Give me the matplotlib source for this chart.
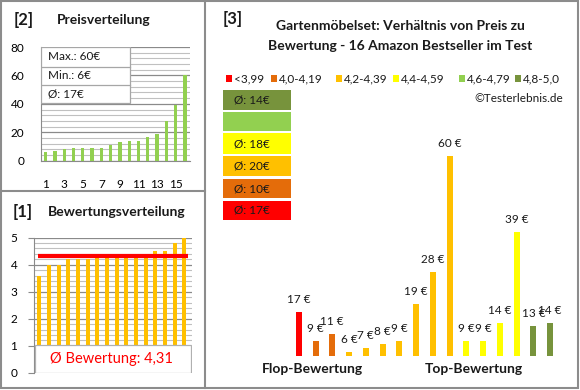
import matplotlib
matplotlib.use("Agg")
import matplotlib.pyplot as plt
from matplotlib.patches import Rectangle
from matplotlib.lines import Line2D
import numpy as np

plt.rcParams['font.family'] = ['Lato', 'DejaVu Sans']

# daten
preise_sortiert = [6, 7, 8, 9, 9, 9, 9, 11, 13, 14, 14, 17, 19, 28, 39, 60]
bewertungen = [3.6, 4.0, 4.0, 4.2, 4.2, 4.2, 4.3, 4.3, 4.3, 4.3, 4.4, 4.4, 4.5, 4.5, 4.8, 5.0]
bew_mittel = 4.31

preise = [17, 9, 11, 6, 7, 8, 9, 19, 28, 60, 9, 9, 14, 39, 13, 14]
klassen = [0, 1, 1, 2, 2, 2, 2, 2, 2, 2, 3, 3, 3, 3, 5, 5]

klassen_labels = ["<3,99", "4,0-4,19", "4,2-4,39", "4,4-4,59", "4,6-4,79", "4,8-5,0"]
klassen_farben = ["#FF0000", "#E46C0A", "#FFC000", "#FFFF00", "#92D050", "#77933C"]
klassen_mittel = ["Ø: 17€", "Ø: 10€", "Ø: 20€", "Ø: 18€", "", "Ø: 14€"]

W, H = 580, 390
fig = plt.figure(figsize=(W / 100, H / 100), dpi=100)


def px_axes(l, t, r, b):
    return fig.add_axes([l / W, 1 - b / H, (r - l) / W, (b - t) / H])


def fx(x):
    return x / W


def fy(y):
    return 1 - y / H


# rahmen
rahmen = "#8c8c8c"
fig.add_artist(Rectangle((fx(1), fy(388)), fx(577), 387 / H, fill=False,
                         ec=rahmen, lw=1.5, transform=fig.transFigure))
fig.add_artist(Line2D([fx(205), fx(205)], [fy(1), fy(388)], color=rahmen, lw=1.5))
fig.add_artist(Line2D([fx(1), fx(205)], [fy(191), fy(191)], color=rahmen, lw=1.5))

txt = "#1a1a1a"

# ---- [2] Preisverteilung ----
fig.text(fx(14), fy(20), "[2]", fontsize=12, fontweight="bold", color=txt, va="center")
fig.text(fx(57), fy(20), "Preisverteilung", fontsize=10, fontweight="bold", color=txt, va="center")

ax2 = px_axes(41, 47, 190, 160.7)
x = np.arange(1, 17)
ax2.bar(x, preise_sortiert, width=0.36, color="#92D050", zorder=3)
ax2.set_xlim(0.5, 16.55)
ax2.set_ylim(0, 80)
ax2.set_yticks([0, 20, 40, 60, 80])
ax2.set_yticks(np.arange(0, 81, 4), minor=True)
ax2.set_xticks([1, 3, 5, 7, 9, 11, 13, 15])
ax2.grid(axis="y", which="minor", color="#c0c0c0", lw=0.8, zorder=0)
ax2.grid(axis="y", which="major", color="#8a8a8a", lw=0.9, zorder=0)
for s in ["top", "right"]:
    ax2.spines[s].set_visible(False)
for s in ["left", "bottom"]:
    ax2.spines[s].set_color("#8a8a8a")
ax2.tick_params(axis="both", which="both", length=0, labelsize=8.5)
ax2.tick_params(axis="x", pad=13)
ax2.tick_params(axis="y", pad=12)

# infobox
ax2.add_patch(Rectangle((0.5, 40.5), 9.6, 39.5, fc="white", ec="#a6a6a6", lw=0.9, zorder=4))
for yl in [53.2, 66.2]:
    ax2.plot([0.5, 10.1], [yl, yl], color="#a6a6a6", lw=0.9, zorder=5)
for yt, s in zip([73.1, 60.1, 47.0],
                 ["Max.: %d€" % max(preise_sortiert), "Min.: %d€" % min(preise_sortiert),
                  "Ø: %d€" % round(np.mean(preise_sortiert))]):
    ax2.text(1.3, yt, s, fontsize=8.5, color=txt, va="center", zorder=6)

# ---- [1] Bewertungsverteilung ----
fig.text(fx(13), fy(212), "[1]", fontsize=12, fontweight="bold", color=txt, va="center")
fig.text(fx(48), fy(212), "Bewertungsverteilung", fontsize=10, fontweight="bold", color=txt, va="center")

ax1 = px_axes(34, 237.7, 192, 372.7)
ax1.bar(x, bewertungen, width=0.42, color="#FFC000", zorder=3)
ax1.set_xlim(0.45, 16.8)
ax1.set_ylim(0, 5)
ax1.set_yticks(range(6))
ax1.set_yticks(np.arange(0, 5.01, 0.2), minor=True)
ax1.set_xticks([])
ax1.grid(axis="y", which="minor", color="#c0c0c0", lw=0.8, zorder=0)
ax1.grid(axis="y", which="major", color="#8a8a8a", lw=0.9, zorder=0)
for s in ["top", "right", "bottom"]:
    ax1.spines[s].set_visible(False)
ax1.spines["left"].set_color("#8a8a8a")
ax1.tick_params(axis="y", which="major", length=4, color="#8a8a8a", labelsize=8.5, pad=8)
ax1.tick_params(axis="y", which="minor", length=0)
ax1.plot([0.9, 16.4], [bew_mittel, bew_mittel], color="#FF0000", lw=3, zorder=5,
         solid_capstyle="butt")
ax1.add_patch(Rectangle((0.55, 0.0), 16.15, 1.03, fc="white", ec="#b0b0b0", lw=0.9, zorder=6))
ax1.text(8.45, 0.5, "Ø Bewertung: " + ("%.2f" % bew_mittel).replace(".", ","),
         fontsize=10.5, color="#FF0000", ha="center", va="center", zorder=7)

# ---- [3] Preis / Bewertung ----
fig.text(fx(223), fy(19), "[3]", fontsize=12, fontweight="bold", color=txt, va="center")
fig.text(fx(400), fy(26), "Gartenmöbelset: Verhältnis von Preis zu", fontsize=10,
         fontweight="bold", color=txt, ha="center", va="center")
fig.text(fx(400), fy(46), "Bewertung - 16 Amazon Bestseller im Test", fontsize=10,
         fontweight="bold", color=txt, ha="center", va="center")

leg_x = [226, 271, 336, 393, 459, 515]
for lx, lab, col in zip(leg_x, klassen_labels, klassen_farben):
    fig.add_artist(Rectangle((fx(lx), fy(81.5)), 6 / W, 6 / H, fc=col, ec="none",
                             transform=fig.transFigure))
    fig.text(fx(lx + 8), fy(78.5), lab, fontsize=8.5, color=txt, va="center")
fig.text(fx(563), fy(98), "©Testerlebnis.de", fontsize=8.5, color=txt, ha="right", va="center")

box_y = [(90, 110), (112, 131), (133, 154), (156, 176), (179, 198), (201, 220)]
for (t, b), col, lab in zip(box_y, klassen_farben[::-1], klassen_mittel[::-1]):
    fig.add_artist(Rectangle((fx(223), fy(b)), 68 / W, (b - t) / H, fc=col, ec="none",
                             transform=fig.transFigure))
    if lab:
        fig.text(fx(234), fy((t + b) / 2), lab, fontsize=8.5, color=txt, va="center")

ax3 = px_axes(282, 140, 567, 355.7)
xi = np.arange(len(preise))
ax3.bar(xi, preise, width=0.36, color=[klassen_farben[k] for k in klassen])
for xx, p in zip(xi, preise):
    ax3.annotate("%d €" % p, (xx, p), xytext=(0, 12.5), textcoords="offset pixels",
                 ha="center", va="center", fontsize=8.5, color=txt)
ax3.set_xlim(-1, 16)
ax3.set_ylim(4.9, 64.3)
ax3.axis("off")

fig.text(fx(312), fy(369), "Flop-Bewertung", fontsize=10, fontweight="bold", color=txt,
         ha="center", va="center")
fig.text(fx(474), fy(369), "Top-Bewertung", fontsize=10, fontweight="bold", color=txt,
         ha="center", va="center")

fig.savefig("out.png", dpi=100)
